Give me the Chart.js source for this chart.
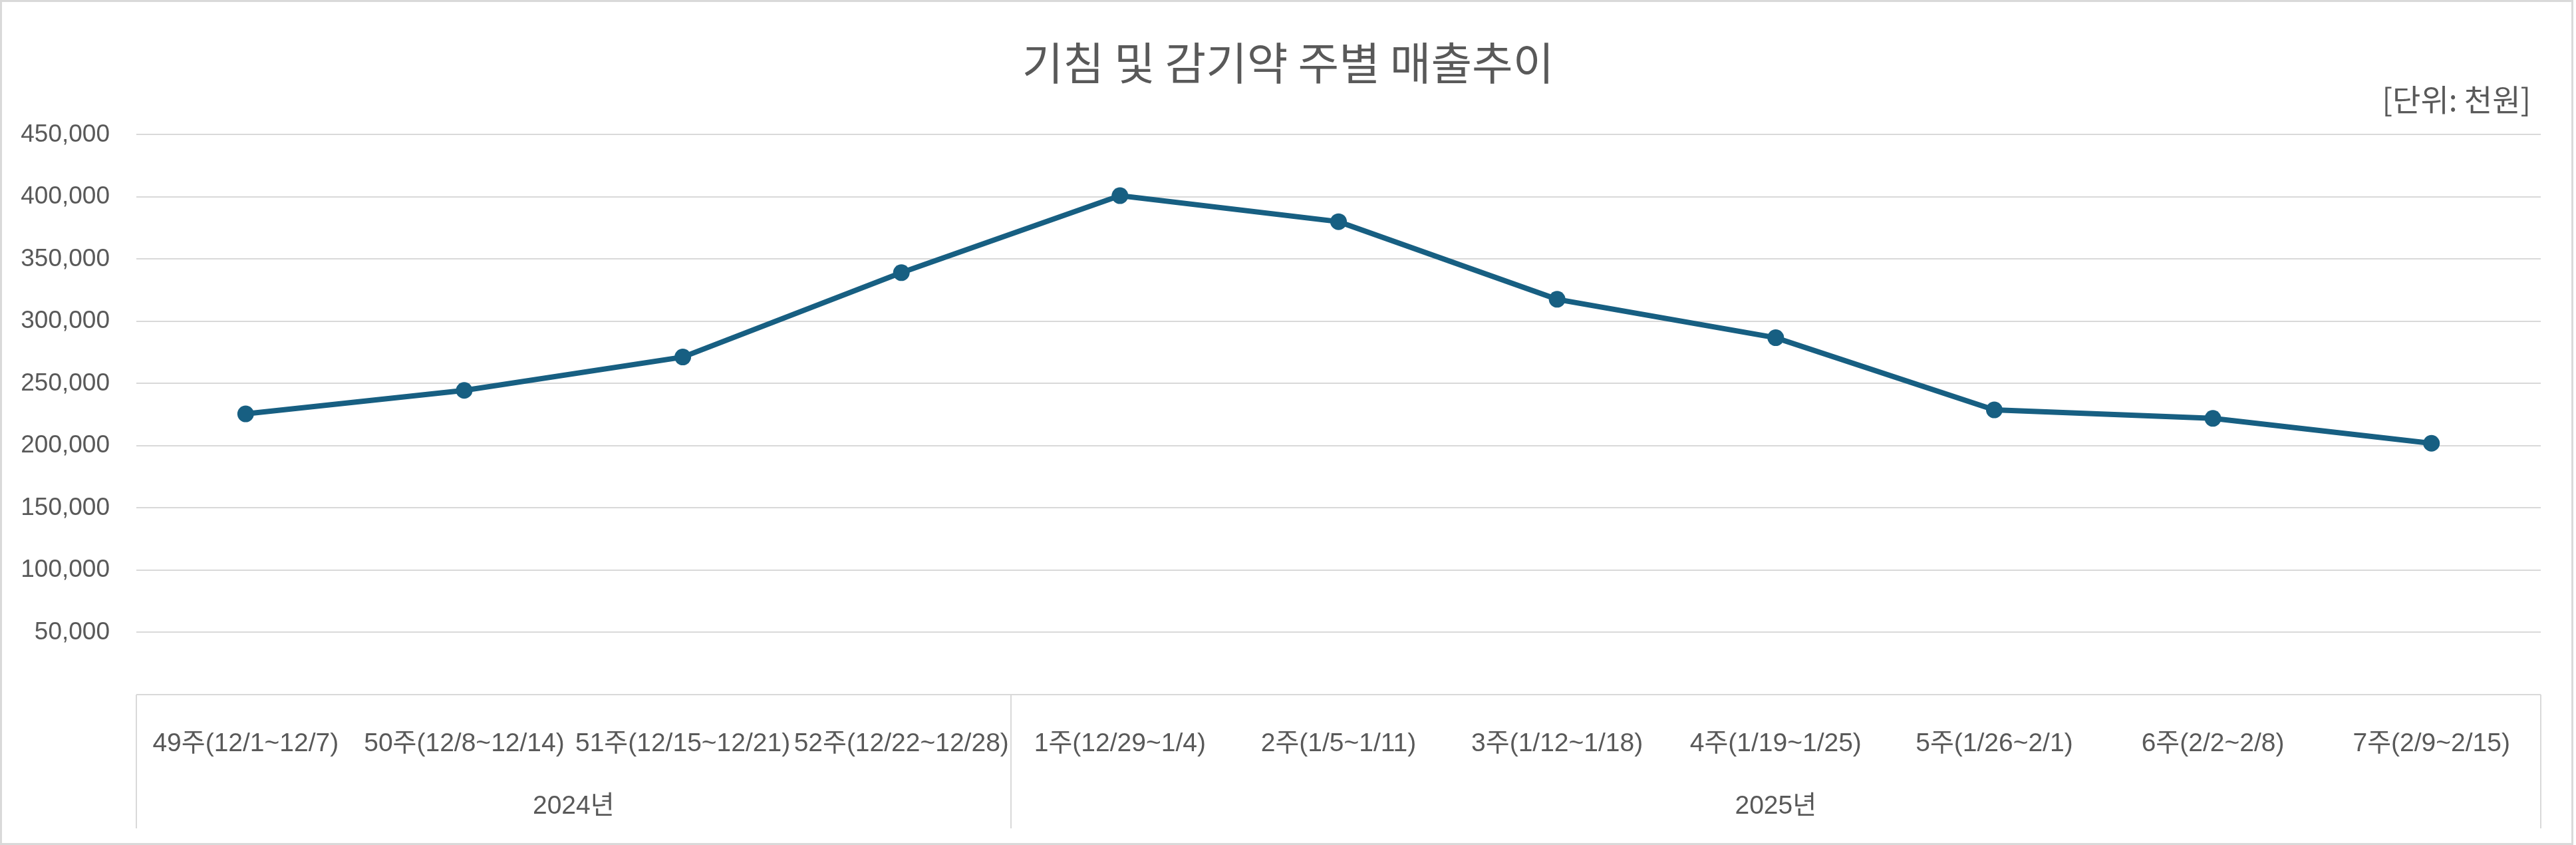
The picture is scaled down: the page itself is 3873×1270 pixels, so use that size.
<!DOCTYPE html>
<html>
<head>
<meta charset="utf-8">
<script src="https://cdn.jsdelivr.net/npm/chart.js@4/dist/chart.umd.min.js"></script>
<style>
  html, body { margin: 0; padding: 0; background: #fff; }
</style>
</head>
<body>
<canvas id="salesChart" width="3873" height="1270"></canvas>
<script>
const weeks = [
  "49주(12/1~12/7)", "50주(12/8~12/14)", "51주(12/15~12/21)", "52주(12/22~12/28)",
  "1주(12/29~1/4)", "2주(1/5~1/11)", "3주(1/12~1/18)", "4주(1/19~1/25)",
  "5주(1/26~2/1)", "6주(2/2~2/8)", "7주(2/9~2/15)"
];
const sales = [225600, 244500, 271300, 339100, 401000, 380100, 317700, 286800, 228800, 222000, 202000];
const years = ["2024년", "2025년"];
const yearSpans = [4, 7];
const yMax = 450000;
const yStep = 50000;
const unitText = "[단위: 천원]";

const gray = "#595959";
const gridGray = "#d9d9d9";
const lineBlue = "#175f82";

// second row of the category axis (years) + box lines
const yearRow = {
  id: "yearRow",
  afterDraw(chart) {
    const { ctx, chartArea } = chart;
    const x = chart.scales.x;
    const half = (x.getPixelForValue(1) - x.getPixelForValue(0)) / 2;
    const top = chartArea.bottom;
    const bottom = top + 201;
    ctx.save();
    ctx.strokeStyle = gridGray;
    ctx.lineWidth = 2;
    let start = 0;
    const edges = [x.getPixelForValue(0) - half];
    yearSpans.forEach((n, i) => {
      const left = x.getPixelForValue(start) - half;
      const right = x.getPixelForValue(start + n - 1) + half;
      edges.push(right);
      ctx.fillStyle = gray;
      ctx.font = "39px 'Liberation Sans', 'Noto Sans CJK KR'";
      ctx.textAlign = "center";
      ctx.textBaseline = "middle";
      ctx.fillText(years[i], (left + right) / 2, top + 168);
      start += n;
    });
    edges.forEach(e => {
      ctx.beginPath();
      ctx.moveTo(Math.round(e), top);
      ctx.lineTo(Math.round(e), bottom);
      ctx.stroke();
    });
    // unit note, right above the plot
    ctx.fillStyle = gray;
    ctx.font = "46px 'Noto Sans CJK KR'";
    ctx.textAlign = "right";
    ctx.textBaseline = "middle";
    ctx.fillText(unitText, chartArea.right - 15, 150);
    ctx.restore();
  }
};

const frame = {
  id: "frame",
  beforeDraw(chart) {
    const { ctx, width, height } = chart;
    ctx.save();
    ctx.fillStyle = "#fff";
    ctx.fillRect(0, 0, width, height);
    ctx.strokeStyle = gridGray;
    ctx.lineWidth = 3;
    ctx.strokeRect(1.5, 1.5, width - 7, height - 3);
    ctx.restore();
  }
};

new Chart(document.getElementById("salesChart"), {
  type: "line",
  data: {
    labels: weeks,
    datasets: [{
      label: "매출",
      data: sales,
      borderColor: lineBlue,
      backgroundColor: lineBlue,
      borderWidth: 8,
      pointRadius: 12.5,
      pointBorderWidth: 0,
      pointBackgroundColor: lineBlue,
      tension: 0
    }]
  },
  options: {
    responsive: false,
    devicePixelRatio: 1,
    animation: false,
    layout: { padding: 0 },
    plugins: {
      legend: { display: false },
      tooltip: { enabled: false },
      title: {
        display: true,
        text: "기침 및 감기약 주별 매출추이",
        color: gray,
        font: { family: "'Noto Sans CJK KR'", size: 67, weight: "normal" },
        padding: { top: 54, bottom: 68 }
      }
    },
    scales: {
      x: {
        offset: true,
        grid: { display: false, offset: true },
        border: { display: false },
        ticks: {
          color: gray,
          font: { family: "'Liberation Sans', 'Noto Sans CJK KR'", size: 39 },
          autoSkip: false,
          maxRotation: 0,
          minRotation: 0,
          padding: 43
        },
        afterFit(scale) { scale.height = 226; }
      },
      y: {
        min: 0,
        max: yMax,
        border: { display: false },
        grid: { color: gridGray, lineWidth: 2, drawTicks: false },
        ticks: {
          stepSize: yStep,
          color: gray,
          padding: 40,
          font: { family: "'Liberation Sans'", size: 37 },
          callback: v => v === 0 ? "" : v.toLocaleString("en-US")
        },
        afterFit(scale) { scale.width = 205; }
      },
      // empty right margin so the title stays centred on the whole canvas
      yRight: {
        position: "right",
        display: true,
        grid: { display: false },
        border: { display: false },
        ticks: { display: false },
        afterFit(scale) { scale.width = 53; }
      }
    }
  },
  plugins: [frame, yearRow]
});
</script>
</body>
</html>
